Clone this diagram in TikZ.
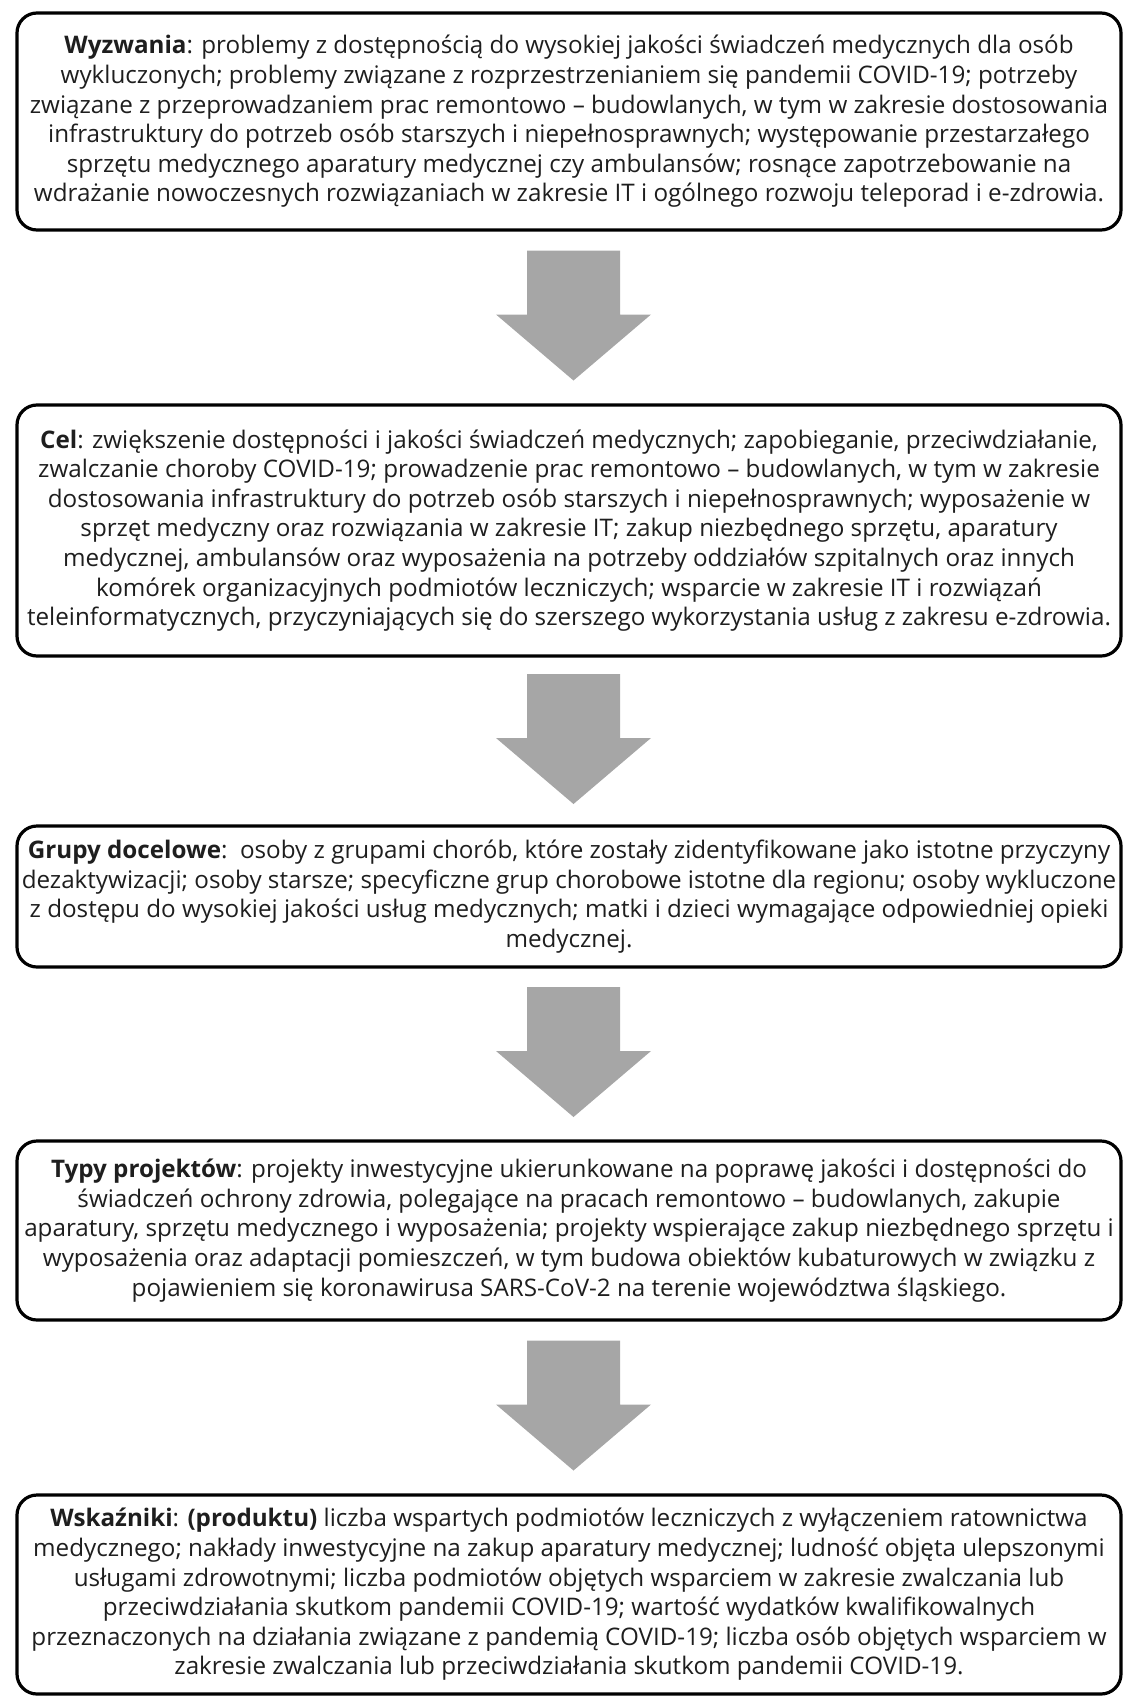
\documentclass[tikz,border=0pt]{standalone}
\usepackage{fontspec}
\setmainfont{Open Sans}
\usepackage{tikz}
\usetikzlibrary{calc}
\definecolor{szary}{HTML}{A6A6A6}
\definecolor{tekst}{HTML}{1E1E1E}
\newcommand{\szer}{552pt}
\tikzset{
  ramka/.style={draw=black, line width=1.6pt, rounded corners=10pt, minimum width=\szer,
    inner sep=0pt, align=center, text=tekst, font=\fontsize{12.1}{14.8}\selectfont},
  strzalka/.style={fill=szary}
}

\begin{document}
\begin{tikzpicture}[x=0.5pt,y=-0.5pt]
\useasboundingbox (0,0) rectangle (1123,1697);
\node[ramka, minimum height=108.5pt] (wyz) at (569,121.5) {\textbf{Wyzwania}: problemy z dostępnością do wysokiej jakości świadczeń medycznych dla osób\\
wykluczonych; problemy związane z rozprzestrzenianiem się pandemii COVID-19; potrzeby\\
związane z przeprowadzaniem prac remontowo – budowlanych, w tym w zakresie dostosowania\\
infrastruktury do potrzeb osób starszych i niepełnosprawnych; występowanie przestarzałego\\
sprzętu medycznego aparatury medycznej czy ambulansów; rosnące zapotrzebowanie na\\
wdrażanie nowoczesnych rozwiązaniach w zakresie IT i ogólnego rozwoju teleporad i e-zdrowia.};
\node[ramka, minimum height=125.5pt] (cel) at (569,530.5) {\textbf{Cel}: zwiększenie dostępności i jakości świadczeń medycznych; zapobieganie, przeciwdziałanie,\\
zwalczanie choroby COVID-19; prowadzenie prac remontowo – budowlanych, w tym w zakresie\\
dostosowania infrastruktury do potrzeb osób starszych i niepełnosprawnych; wyposażenie w\\
sprzęt medyczny oraz rozwiązania w zakresie IT; zakup niezbędnego sprzętu, aparatury\\
medycznej, ambulansów oraz wyposażenia na potrzeby oddziałów szpitalnych oraz innych\\
komórek organizacyjnych podmiotów leczniczych; wsparcie w zakresie IT i rozwiązań\\
teleinformatycznych, przyczyniających się do szerszego wykorzystania usług z zakresu e-zdrowia.};
\node[ramka, minimum height=70.5pt] (gru) at (569,896.5) {\textbf{Grupy docelowe}:\ \ osoby z grupami chorób, które zostały zidentyfikowane jako istotne przyczyny\\
dezaktywizacji; osoby starsze; specyficzne grup chorobowe istotne dla regionu; osoby wykluczone\\
z dostępu do wysokiej jakości usług medycznych; matki i dzieci wymagające odpowiedniej opieki\\
medycznej.};
\node[ramka, minimum height=89.5pt] (typ) at (569,1230.5) {\textbf{Typy projektów}: projekty inwestycyjne ukierunkowane na poprawę jakości i dostępności do\\
świadczeń ochrony zdrowia, polegające na pracach remontowo – budowlanych, zakupie\\
aparatury, sprzętu medycznego i wyposażenia; projekty wspierające zakup niezbędnego sprzętu i\\
wyposażenia oraz adaptacji pomieszczeń, w tym budowa obiektów kubaturowych w związku z\\
pojawieniem się koronawirusa SARS-CoV-2 na terenie województwa śląskiego.};
\node[ramka, minimum height=99.5pt] (wsk) at (569,1594.5) {\textbf{Wskaźniki}: \textbf{(produktu)} liczba wspartych podmiotów leczniczych z wyłączeniem ratownictwa\\
medycznego; nakłady inwestycyjne na zakup aparatury medycznej; ludność objęta ulepszonymi\\
usługami zdrowotnymi; liczba podmiotów objętych wsparciem w zakresie zwalczania lub\\
przeciwdziałania skutkom pandemii COVID-19; wartość wydatków kwalifikowalnych\\
przeznaczonych na działania związane z pandemią COVID-19; liczba osób objętych wsparciem w\\
zakresie zwalczania lub przeciwdziałania skutkom pandemii COVID-19.};
\foreach \a/\b in {wyz/cel,cel/gru,gru/typ,typ/wsk}{
  \coordinate (m) at ($(\a.south)!0.5!(\b.north)+(4.5,0)$);
  \fill[strzalka] ($(m)+(-46.5,-67)$) -- ++(93,0) -- ++(0,64) -- ++(31,0) -- ($(m)+(0,63)$)
    -- ++(-77.5,-66) -- ++(31,0) -- cycle;
}
\end{tikzpicture}
\end{document}
